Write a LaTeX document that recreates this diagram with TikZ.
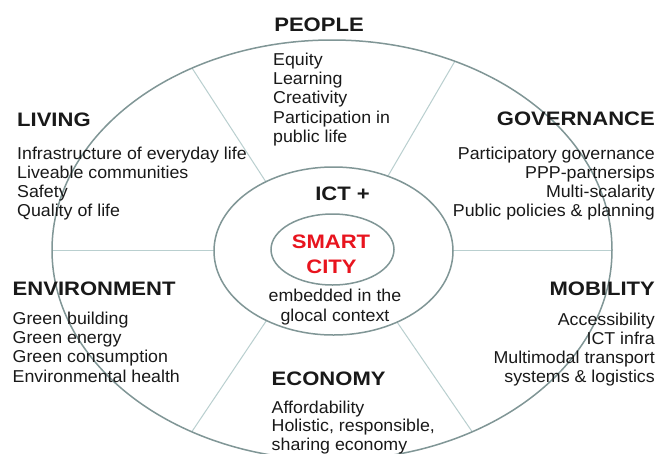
\documentclass[tikz,border=0pt]{standalone}
\usepackage{fontspec}
\setmainfont{Liberation Sans}
\newfontfamily\bodyf{Liberation Sans}[FakeStretch=1.035]
\newfontfamily\headf{Liberation Sans}[FakeStretch=1.13]
\definecolor{ring}{RGB}{128,150,150}
\definecolor{spoke}{RGB}{185,207,207}
\definecolor{smartred}{RGB}{232,20,30}
\definecolor{ink}{RGB}{25,25,25}
\tikzset{
  head/.style={font=\headf\bfseries\fontsize{19.5}{22}\selectfont, inner sep=0pt, text=ink},
  body/.style={font=\bodyf\fontsize{17.2}{19.2}\selectfont, inner sep=0pt, text=ink},
  ringline/.style={draw=ring, line width=1.5pt},
  spokeline/.style={draw=spoke, line width=1pt}
}
\begin{document}
\begin{tikzpicture}[x=1pt,y=-1pt]
\useasboundingbox (0,0) rectangle (659,453);
\fill[white] (0,0) rectangle (659,453);
\clip (0,0) rectangle (659,453);
% spokes end points
\coordinate (o1) at (192,68);    \coordinate (m1) at (266,182);
\coordinate (o2) at (454.7,61.5);\coordinate (m2) at (388,176);
\coordinate (o3) at (52,250.5);  \coordinate (m3) at (214,250.5);
\coordinate (o4) at (612,250.5); \coordinate (m4) at (453,250.5);
\coordinate (o5) at (192,431.5); \coordinate (m5) at (266.5,320.5);
\coordinate (o6) at (472,431.5); \coordinate (m6) at (397,322);
\foreach \k in {1,...,6} \draw[spokeline] (m\k) -- (o\k);
% rings
\draw[ringline] (332,250) ellipse [x radius=280pt, y radius=210pt];
\draw[ringline] (333.5,251) ellipse [x radius=119.5pt, y radius=84pt];
\draw[ringline] (332.5,249.5) ellipse [x radius=61.5pt, y radius=35.5pt];
% headings
\node[head, anchor=base] (people) at (319,31) {PEOPLE};
\node[head, anchor=base west] (living) at (17,126) {LIVING};
\node[head, anchor=base east] (gov) at (655,125.5) {GOVERNANCE};
\node[head, anchor=base west] (env) at (12.5,295.5) {ENVIRONMENT};
\node[head, anchor=base east] (mob) at (655,295) {MOBILITY};
\node[head, anchor=base west] (eco) at (271.5,385) {ECONOMY};
\node[head, anchor=base] (ict) at (342.5,200) {ICT +};
\node[head, anchor=base, text=smartred] (smart) at (331,248) {SMART};
\node[head, anchor=base, text=smartred] (city) at (331.5,273) {CITY};
\node[body, anchor=base] (emb1) at (335,301.5) {embedded in the};
\node[body, anchor=base] (emb2) at (335,321.5) {glocal context};
% lists
\foreach \t [count=\i] in {Equity, Learning, Creativity, Participation in, public life}
  \node[body, anchor=base west] (peo\i) at (273,65.5+19.2*\i-19.2) {\t};
\foreach \t [count=\i] in {Infrastructure of everyday life, Liveable communities, Safety, Quality of life}
  \node[body, anchor=base west] (liv\i) at (17,159+19*\i-19) {\t};
\foreach \t [count=\i] in {Participatory governance, PPP-partnersips, Multi-scalarity, Public policies \& planning}
  \node[body, anchor=base east] (gov\i) at (655,159+19*\i-19) {\t};
\foreach \t [count=\i] in {Green building, Green energy, Green consumption, Environmental health}
  \node[body, anchor=base west] (env\i) at (12.5,324.5+19.2*\i-19.2) {\t};
\foreach \t [count=\i] in {Accessibility, ICT infra, Multimodal transport, systems \& logistics}
  \node[body, anchor=base east] (mob\i) at (655,325+19*\i-19) {\t};
\foreach \t [count=\i] in {Affordability, {Holistic, responsible,}, sharing economy}
  \node[body, anchor=base west] (eco\i) at (271.5,413+18.8*\i-18.8) {\t};
\end{tikzpicture}
\end{document}
